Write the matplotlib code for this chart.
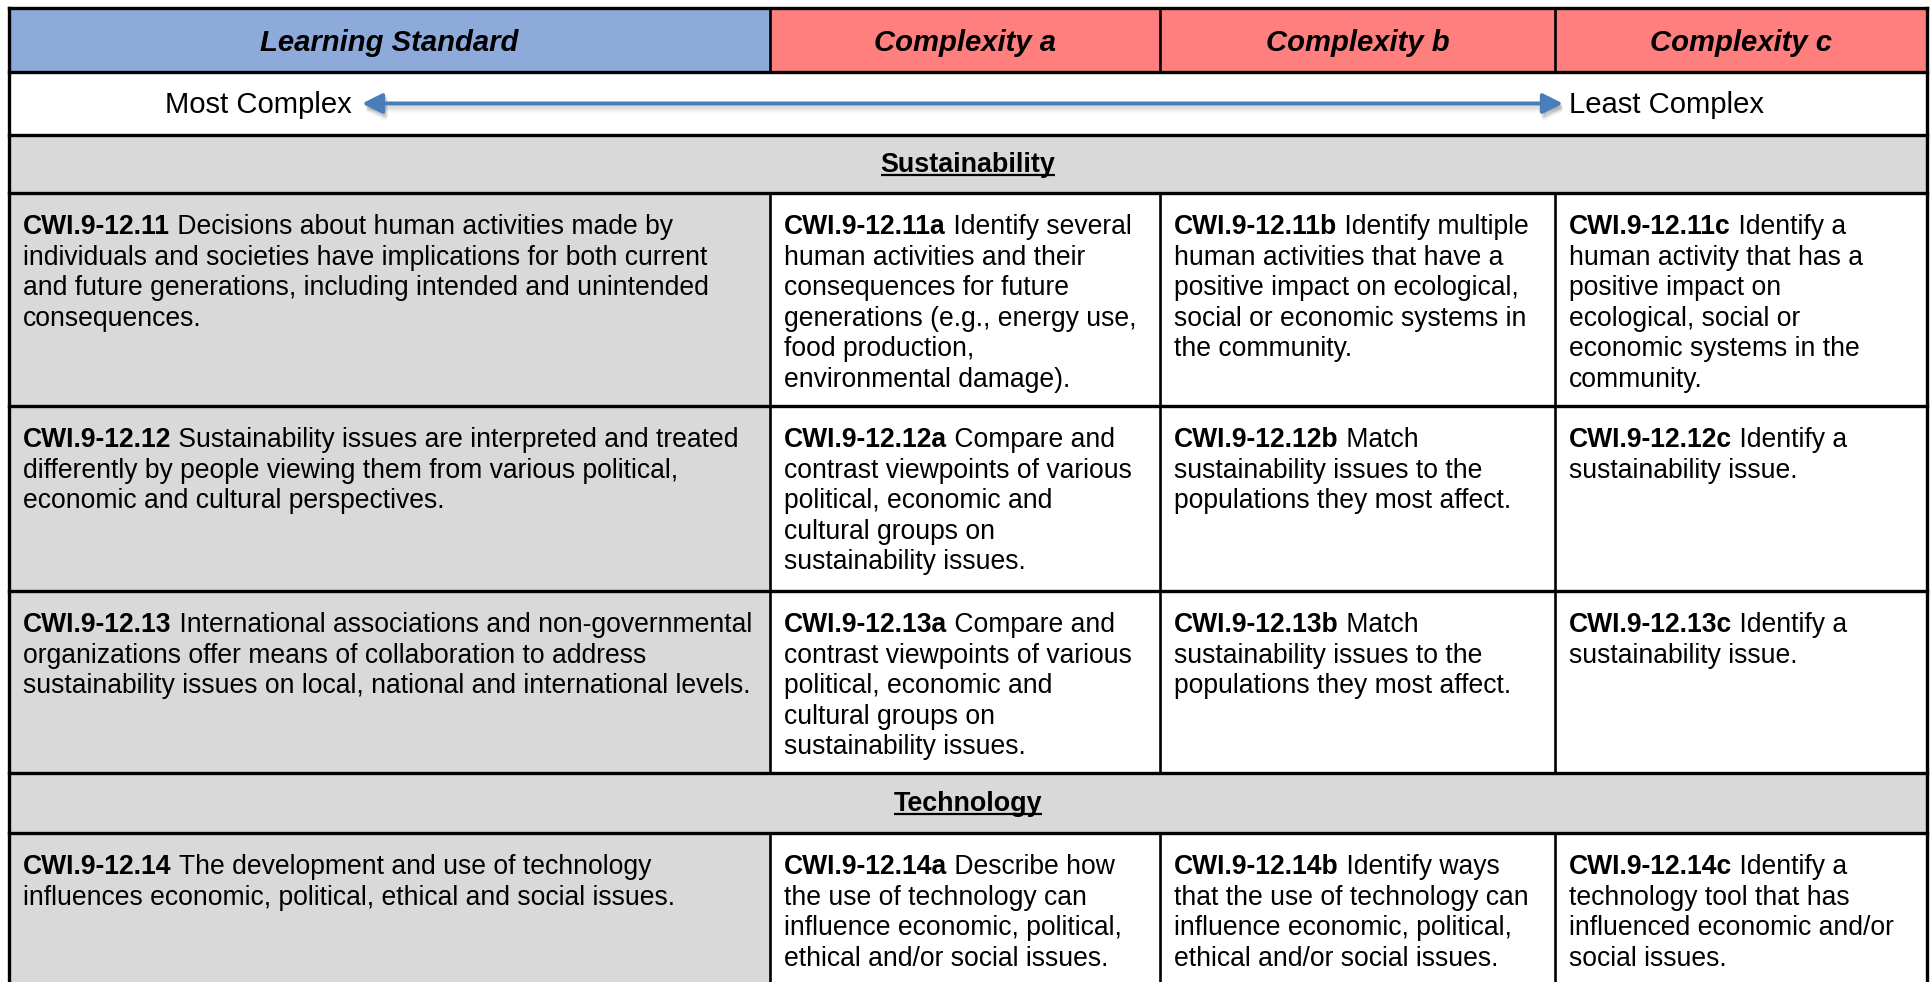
import matplotlib
matplotlib.use("Agg")
import matplotlib.pyplot as plt
from matplotlib.patches import Rectangle

plt.rcParams['font.family'] = ['Liberation Sans', 'DejaVu Sans']

# ---------------- data ----------------
col_headers = ["Learning Standard", "Complexity a", "Complexity b", "Complexity c"]
scale_left = "Most Complex"
scale_right = "Least Complex"
sections = ["Sustainability", "Technology"]

codes_11 = ["CWI.9-12.11", "CWI.9-12.11a", "CWI.9-12.11b", "CWI.9-12.11c"]
text_11 = [
    [" Decisions about human activities made by",
     "individuals and societies have implications for both current",
     "and future generations, including intended and unintended",
     "consequences."],
    [" Identify several", "human activities and their", "consequences for future",
     "generations (e.g., energy use,", "food production,", "environmental damage)."],
    [" Identify multiple", "human activities that have a", "positive impact on ecological,",
     "social or economic systems in", "the community."],
    [" Identify a", "human activity that has a", "positive impact on",
     "ecological, social or", "economic systems in the", "community."],
]
codes_12 = ["CWI.9-12.12", "CWI.9-12.12a", "CWI.9-12.12b", "CWI.9-12.12c"]
text_12 = [
    [" Sustainability issues are interpreted and treated",
     "differently by people viewing them from various political,",
     "economic and cultural perspectives."],
    [" Compare and", "contrast viewpoints of various", "political, economic and",
     "cultural groups on", "sustainability issues."],
    [" Match", "sustainability issues to the", "populations they most affect."],
    [" Identify a", "sustainability issue."],
]
codes_13 = ["CWI.9-12.13", "CWI.9-12.13a", "CWI.9-12.13b", "CWI.9-12.13c"]
text_13 = [
    [" International associations and non-governmental",
     "organizations offer means of collaboration to address",
     "sustainability issues on local, national and international levels."],
    [" Compare and", "contrast viewpoints of various", "political, economic and",
     "cultural groups on", "sustainability issues."],
    [" Match", "sustainability issues to the", "populations they most affect."],
    [" Identify a", "sustainability issue."],
]
codes_14 = ["CWI.9-12.14", "CWI.9-12.14a", "CWI.9-12.14b", "CWI.9-12.14c"]
text_14 = [
    [" The development and use of technology",
     "influences economic, political, ethical and social issues."],
    [" Describe how", "the use of technology can", "influence economic, political,",
     "ethical and/or social issues."],
    [" Identify ways", "that the use of technology can", "influence economic, political,",
     "ethical and/or social issues."],
    [" Identify a", "technology tool that has", "influenced economic and/or",
     "social issues."],
]

# ---------------- layout ----------------
W, H = 1931, 982
col_x = [9, 770, 1160, 1555, 1927]
row_y = {"hdr": (8, 72), "arrow": (72, 135), "sec1": (135, 193),
         "r11": (193, 406), "r12": (406, 591), "r13": (591, 773),
         "sec2": (773, 833), "r14": (833, 1000)}

BLUE = "#8EAADB"
RED = "#FF7F7F"
GRAY = "#D9D9D9"
FS = 19.1
FS_HDR = 21.1
FS_SEC = 19.4
LINE_H = 30.6
PAD_X = 14
FIRST = 34

fig = plt.figure(figsize=(W / 100, H / 100), dpi=100)
ax = fig.add_axes([0, 0, 1, 1])
ax.set_xlim(0, W)
ax.set_ylim(H, 0)
ax.axis("off")
renderer = fig.canvas.get_renderer()


def rect(x0, x1, y0, y1, color):
    ax.add_patch(Rectangle((x0, y0), x1 - x0, y1 - y0, facecolor=color,
                           edgecolor="none", zorder=1))


# header row
y0, y1 = row_y["hdr"]
for i, h in enumerate(col_headers):
    rect(col_x[i], col_x[i + 1], y0, y1, BLUE if i == 0 else RED)
    ax.text((col_x[i] + col_x[i + 1]) / 2, (y0 + y1) / 2 + 2.5, h, fontsize=FS_HDR,
            fontweight="bold", fontstyle="italic", ha="center", va="center", zorder=3)

# arrow row
y0, y1 = row_y["arrow"]
rect(col_x[0], col_x[-1], y0, y1, "white")
ym = 103.5
ax.text(352, ym + 1, scale_left, fontsize=FS_HDR, ha="right", va="center", zorder=3)
ax.text(1569, ym + 1, scale_right, fontsize=FS_HDR, ha="left", va="center", zorder=3)
# soft shadow
for dy, a in [(3, 0.18), (5, 0.12), (7, 0.06)]:
    ax.annotate("", xy=(1565, ym + dy), xytext=(364, ym + dy),
                arrowprops=dict(arrowstyle="<|-|>", color="#808080", lw=3.0, alpha=a,
                                mutation_scale=30, shrinkA=0, shrinkB=0), zorder=2)
ax.annotate("", xy=(1563, ym), xytext=(362, ym),
            arrowprops=dict(arrowstyle="<|-|>", color="#4A7EBB", lw=2.9,
                            mutation_scale=30, shrinkA=0, shrinkB=0), zorder=3)


def underlined(x, y, s):
    t = ax.text(x, y, s, fontsize=FS_SEC, fontweight="bold", ha="center", va="center",
                zorder=3)
    bb = t.get_window_extent(renderer)
    inv = ax.transData.inverted()
    (xa, ya), (xb, yb) = inv.transform([[bb.x0, bb.y0], [bb.x1, bb.y1]])
    ax.plot([xa, xb], [ya - 3, ya - 3], color="black", lw=1.6, zorder=3,
            solid_capstyle="butt")


for key, name in zip(["sec1", "sec2"], sections):
    y0, y1 = row_y[key]
    rect(col_x[0], col_x[-1], y0, y1, GRAY)
    underlined((col_x[0] + col_x[-1]) / 2, (y0 + y1) / 2 + 1, name)


def cell(x, ytop, code, lines):
    y = ytop + FIRST
    t = ax.text(x, y, code, fontsize=FS, fontweight="bold", ha="left", va="center", zorder=3)
    bb = t.get_window_extent(renderer)
    xr = ax.transData.inverted().transform([[bb.x1, bb.y0]])[0][0]
    ax.text(xr, y, lines[0], fontsize=FS, ha="left", va="center", zorder=3)
    for k, ln in enumerate(lines[1:], start=1):
        ax.text(x, y + k * LINE_H, ln, fontsize=FS, ha="left", va="center", zorder=3)


for key, codes, texts in [("r11", codes_11, text_11), ("r12", codes_12, text_12),
                          ("r13", codes_13, text_13), ("r14", codes_14, text_14)]:
    y0, y1 = row_y[key]
    for i in range(4):
        rect(col_x[i], col_x[i + 1], y0, y1, GRAY if i == 0 else "white")
        cell(col_x[i] + PAD_X, y0, codes[i], texts[i])

# borders
LW_H = 2.4
LW_V = 1.9
for key in ["hdr", "arrow", "sec1", "r11", "r12", "r13", "sec2", "r14"]:
    y0, y1 = row_y[key]
    ax.plot([col_x[0], col_x[-1]], [y0, y0], color="black", lw=LW_H, zorder=4,
            solid_capstyle="projecting")
    if key not in ("arrow", "sec1", "sec2"):
        for xv in col_x[1:-1]:
            ax.plot([xv, xv], [y0, y1], color="black", lw=LW_V, zorder=4)
ax.plot([col_x[0], col_x[0]], [8, H + 5], color="black", lw=LW_H, zorder=4)
ax.plot([col_x[-1], col_x[-1]], [8, H + 5], color="black", lw=LW_H, zorder=4)

fig.savefig("out.png", dpi=100)
